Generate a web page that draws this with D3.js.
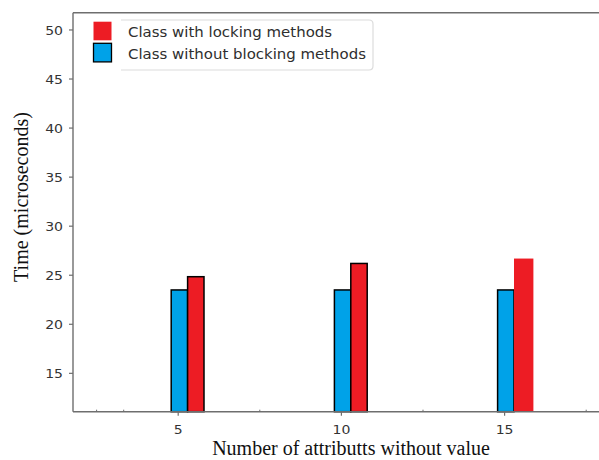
<!DOCTYPE html>
<html>
<head>
<meta charset="utf-8">
<script src="https://cdn.jsdelivr.net/npm/d3@7"></script>
<style>
  html, body { margin: 0; padding: 0; background: #fff; }
  svg { display: block; }
  .tick-label { font-family: "DejaVu Sans", sans-serif; font-size: 13px; fill: #333; }
  .legend-label { font-family: "DejaVu Sans", sans-serif; font-size: 13.6px; fill: #2e2e2e; }
  .axis-title { font-family: "Liberation Serif", "Times New Roman", serif; font-size: 20px; fill: #111; }
</style>
</head>
<body>
<svg id="chart" width="599" height="460"></svg>
<script>
// Number of attributes without value (x categories)
const categories = [5, 10, 15];
// Time in microseconds for each class variant
const withoutBlocking = [23.5, 23.5, 23.5];
const withLocking = [24.85, 26.2, 26.7];
const yTicks = [15, 20, 25, 30, 35, 40, 45, 50];
const xMajorTicks = [5, 10, 15];
const xMinorTicks = [2.5, 3.33, 7.5, 12.5, 17.5];
const seriesNames = ["Class with locking methods", "Class without blocking methods"];
const seriesColors = ["#ED1C24", "#00A2E8"];

const svg = d3.select("#chart");
const plot = { left: 73, right: 600, top: 12.7, bottom: 411.7 };

const x = d3.scaleLinear().domain([5, 15]).range([178.2, 504.6]);
const y = d3.scaleLinear().domain([11.09, 51.76]).range([plot.bottom, plot.top]);

const barW = 16.4;
const blueOffset = -7;

// bars: blue (without blocking) left of the tick, red (with locking) right
const g = svg.append("g");
categories.forEach((c, i) => {
  const x0 = x(c) + blueOffset;
  g.append("rect")
    .attr("x", x0).attr("y", y(withoutBlocking[i]))
    .attr("width", barW).attr("height", y(11.09) - y(withoutBlocking[i]))
    .attr("fill", seriesColors[1]).attr("stroke", "#000").attr("stroke-width", 1.5);
  const last = i === categories.length - 1;
  g.append("rect")
    .attr("x", x0 + barW).attr("y", y(withLocking[i]))
    .attr("width", last ? barW + 3 : barW).attr("height", y(11.09) - y(withLocking[i]))
    .attr("fill", seriesColors[0])
    .attr("stroke", last ? "none" : "#000").attr("stroke-width", 1.5);
});

// frame: left axis, bottom axis, top border
const axisColor = "#6e6e6e";
svg.append("line").attr("x1", plot.left).attr("x2", plot.left)
  .attr("y1", plot.top).attr("y2", plot.bottom)
  .attr("stroke", axisColor).attr("stroke-width", 1.4);
svg.append("line").attr("x1", plot.left).attr("x2", plot.right)
  .attr("y1", plot.bottom).attr("y2", plot.bottom)
  .attr("stroke", axisColor).attr("stroke-width", 1.4);
svg.append("line").attr("x1", plot.left).attr("x2", plot.right)
  .attr("y1", plot.top).attr("y2", plot.top)
  .attr("stroke", axisColor).attr("stroke-width", 1.4);

// y axis ticks and labels
yTicks.forEach(t => {
  const yy = y(t);
  svg.append("line").attr("x1", plot.left - 4).attr("x2", plot.left)
    .attr("y1", yy).attr("y2", yy).attr("stroke", axisColor).attr("stroke-width", 1.2);
  svg.append("text").attr("class", "tick-label")
    .attr("text-anchor", "end")
    .attr("transform", `translate(${plot.left - 10},${yy + 4.6}) scale(1.08,1)`)
    .text(t);
});

// x axis major ticks and labels
xMajorTicks.forEach(t => {
  const xx = x(t);
  svg.append("line").attr("x1", xx).attr("x2", xx)
    .attr("y1", plot.bottom).attr("y2", plot.bottom + 4)
    .attr("stroke", axisColor).attr("stroke-width", 1.2);
  svg.append("text").attr("class", "tick-label")
    .attr("text-anchor", "middle")
    .attr("transform", `translate(${xx},${plot.bottom + 22}) scale(1.08,1)`)
    .text(t);
});
// x axis minor ticks (inward)
xMinorTicks.forEach(t => {
  const xx = x(t);
  svg.append("line").attr("x1", xx).attr("x2", xx)
    .attr("y1", plot.bottom - 2).attr("y2", plot.bottom)
    .attr("stroke", axisColor).attr("stroke-width", 1);
});

// axis titles
svg.append("text").attr("class", "axis-title")
  .attr("text-anchor", "middle")
  .attr("transform", "translate(351,455)")
  .text("Number of attributts without value");
svg.append("text").attr("class", "axis-title")
  .attr("text-anchor", "middle")
  .attr("transform", "translate(28,197) rotate(-90)")
  .text("Time (microseconds)");

// legend
const legend = svg.append("g");
legend.append("path")
  .attr("d", "M121,20 H369 Q373,20 373,24 V66 Q373,70 369,70 H121")
  .attr("fill", "none").attr("stroke", "#dcdcdc").attr("stroke-width", 1.2);
seriesNames.forEach((name, i) => {
  const top = 21.7 + i * 21.6;
  legend.append("rect")
    .attr("x", 93.5).attr("y", top)
    .attr("width", 18).attr("height", 18.6)
    .attr("fill", seriesColors[i])
    .attr("stroke", i === 1 ? "#000" : "none").attr("stroke-width", 1.3);
  legend.append("text").attr("class", "legend-label")
    .attr("transform", `translate(128,${top + 15.5}) scale(1.1,1)`)
    .text(name);
});
</script>
</body>
</html>
